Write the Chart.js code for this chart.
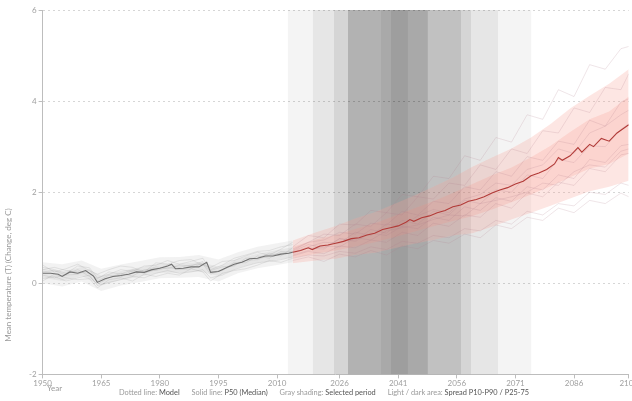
<!DOCTYPE html>
<html>
<head>
<meta charset="utf-8">
<script src="https://cdn.jsdelivr.net/npm/chart.js@4.4.1/dist/chart.umd.min.js"></script>
<style>
  body { margin: 0; overflow: hidden; background: #fff; font-family: Lato, "Open Sans", sans-serif; }
  #wrap { position: relative; width: 638px; height: 401px; }
  #ytitle { position: absolute; left: 8px; top: 275px; transform: translate(-50%, -50%) rotate(-90deg);
            white-space: nowrap; font-size: 8px; color: #9a9a9a; }
  #xtitle { position: absolute; left: 47px; top: 383px; font-size: 8px; color: #9a9a9a; }
  #legend { position: absolute; left: 0; width: 648px; top: 388px; text-align: center;
            font-size: 7.4px; color: #9a9a9a; white-space: nowrap; }
  #legend span { margin: 0 5px; }
  #legend b { font-weight: normal; color: #555; }
</style>
</head>
<body>
<div id="wrap"><canvas id="chart"></canvas></div>
<div id="ytitle">Mean temperature (T) (Change, deg C)</div>
<div id="xtitle">Year</div>
<div id="legend">
  <span>Dotted line: <b>Model</b></span>
  <span>Solid line: <b>P50 (Median)</b></span>
  <span>Gray shading: <b>Selected period</b></span>
  <span>Light / dark area: <b>Spread P10-P90 / P25-75</b></span>
</div>
<script>
// axis ticks
const xTicks = [1950, 1965, 1980, 1995, 2010, 2026, 2041, 2056, 2071, 2086, 2100];

// median (P50), historical and projected
const histYears = [1950, 1952, 1954, 1955, 1957, 1959, 1961, 1963, 1964, 1966, 1968, 1970, 1972, 1974, 1976, 1978, 1980, 1982, 1983, 1984, 1986, 1988, 1990, 1992, 1993, 1995, 1997, 1999, 2001, 2003, 2005, 2007, 2009, 2011, 2013, 2014];
const histMedian = [0.22, 0.22, 0.2, 0.15, 0.25, 0.22, 0.28, 0.16, 0.02, 0.1, 0.15, 0.17, 0.2, 0.25, 0.24, 0.3, 0.33, 0.38, 0.42, 0.32, 0.33, 0.36, 0.36, 0.46, 0.24, 0.26, 0.34, 0.42, 0.46, 0.54, 0.55, 0.6, 0.6, 0.64, 0.66, 0.68];
const projYears = [2014, 2016, 2018, 2019, 2021, 2023, 2025, 2027, 2029, 2031, 2033, 2035, 2037, 2039, 2041, 2043, 2044, 2045, 2047, 2049, 2051, 2053, 2055, 2057, 2059, 2061, 2063, 2065, 2067, 2069, 2071, 2073, 2075, 2077, 2079, 2081, 2082, 2083, 2085, 2087, 2088, 2090, 2091, 2093, 2095, 2097, 2099, 2100];
const projMedian = [0.68, 0.72, 0.78, 0.74, 0.82, 0.84, 0.88, 0.92, 0.98, 1.0, 1.06, 1.1, 1.18, 1.22, 1.26, 1.34, 1.4, 1.36, 1.44, 1.48, 1.55, 1.6, 1.68, 1.72, 1.8, 1.84, 1.9, 1.98, 2.05, 2.1, 2.18, 2.24, 2.36, 2.42, 2.5, 2.62, 2.76, 2.7, 2.8, 2.98, 2.88, 3.05, 3.0, 3.18, 3.12, 3.3, 3.42, 3.48];

// spread percentiles
const histBandYears = [1950, 1955, 1960, 1965, 1970, 1975, 1980, 1985, 1990, 1995, 2000, 2005, 2010, 2014];
const histP90 = [0.46, 0.42, 0.5, 0.32, 0.41, 0.49, 0.57, 0.58, 0.62, 0.52, 0.68, 0.8, 0.88, 0.94];
const histP75 = [0.32, 0.26, 0.36, 0.17, 0.27, 0.35, 0.43, 0.43, 0.47, 0.37, 0.54, 0.65, 0.73, 0.79];
const histP25 = [0.12, 0.05, 0.16, -0.05, 0.07, 0.15, 0.23, 0.23, 0.26, 0.16, 0.34, 0.45, 0.52, 0.57];
const histP10 = [0.0, -0.07, 0.04, -0.17, -0.05, 0.03, 0.11, 0.12, 0.14, 0.04, 0.22, 0.33, 0.4, 0.46];
const projBandYears = [2014, 2020, 2025, 2030, 2035, 2040, 2045, 2050, 2055, 2060, 2065, 2070, 2075, 2080, 2085, 2090, 2095, 2100];
const projP90 = [0.94, 1.12, 1.26, 1.42, 1.56, 1.74, 1.92, 2.12, 2.32, 2.56, 2.76, 2.96, 3.2, 3.5, 3.84, 4.12, 4.38, 4.7];
const projP75 = [0.8, 0.96, 1.06, 1.19, 1.32, 1.48, 1.64, 1.8, 1.98, 2.18, 2.37, 2.54, 2.77, 3.02, 3.32, 3.6, 3.77, 4.1];
const projP25 = [0.56, 0.65, 0.72, 0.81, 0.9, 1.01, 1.13, 1.25, 1.37, 1.48, 1.62, 1.78, 1.95, 2.13, 2.33, 2.52, 2.62, 2.85];
const projP10 = [0.44, 0.5, 0.54, 0.62, 0.67, 0.77, 0.87, 0.95, 1.05, 1.1, 1.24, 1.4, 1.55, 1.7, 1.86, 2.02, 2.12, 2.25];

// individual model runs
const modelHistYears = [1950, 1953, 1956, 1959, 1962, 1964, 1967, 1970, 1973, 1976, 1979, 1982, 1985, 1988, 1991, 1993, 1996, 1999, 2002, 2005, 2008, 2011, 2014];
const modelHist1 = [0.35, 0.3, 0.22, 0.38, 0.34, 0.12, 0.2, 0.3, 0.26, 0.38, 0.4, 0.5, 0.42, 0.48, 0.55, 0.3, 0.4, 0.55, 0.62, 0.7, 0.72, 0.8, 0.85];
const modelHist2 = [0.1, 0.15, 0.05, 0.12, 0.18, -0.05, 0.02, 0.08, 0.15, 0.12, 0.22, 0.28, 0.22, 0.25, 0.3, 0.12, 0.18, 0.3, 0.38, 0.45, 0.48, 0.52, 0.58];
const modelHist3 = [0.25, 0.28, 0.18, 0.2, 0.3, 0.05, 0.18, 0.14, 0.28, 0.22, 0.3, 0.4, 0.35, 0.4, 0.42, 0.2, 0.3, 0.4, 0.5, 0.52, 0.62, 0.66, 0.7];
const modelHist4 = [0.18, 0.12, 0.2, 0.3, 0.15, -0.02, 0.12, 0.22, 0.16, 0.3, 0.28, 0.35, 0.3, 0.32, 0.45, 0.25, 0.28, 0.46, 0.45, 0.6, 0.55, 0.7, 0.68];
const modelHist5 = [0.3, 0.35, 0.28, 0.25, 0.22, 0.1, 0.25, 0.2, 0.3, 0.28, 0.36, 0.32, 0.4, 0.38, 0.48, 0.28, 0.36, 0.38, 0.55, 0.55, 0.66, 0.6, 0.78];
const modelHist6 = [0.4, 0.25, 0.32, 0.42, 0.28, 0.2, 0.3, 0.38, 0.35, 0.25, 0.45, 0.42, 0.5, 0.52, 0.4, 0.35, 0.48, 0.5, 0.6, 0.68, 0.62, 0.75, 0.9];
const modelHist7 = [0.05, 0.2, 0.12, 0.08, 0.1, -0.1, 0.08, 0.12, 0.05, 0.2, 0.15, 0.22, 0.18, 0.32, 0.25, 0.05, 0.22, 0.28, 0.32, 0.4, 0.5, 0.46, 0.55];
const modelProjYears = [2014, 2018, 2022, 2026, 2030, 2034, 2038, 2042, 2046, 2050, 2054, 2058, 2062, 2066, 2070, 2074, 2078, 2082, 2086, 2090, 2094, 2098, 2100];
const modelProj1 = [0.8, 1.05, 1.0, 1.3, 1.28, 1.6, 1.55, 1.95, 1.9, 2.35, 2.3, 2.8, 2.7, 3.2, 3.1, 3.7, 3.6, 4.25, 4.1, 4.8, 4.7, 5.15, 5.2];
const modelProj2 = [0.75, 0.9, 1.08, 1.05, 1.3, 1.25, 1.55, 1.5, 1.9, 1.85, 2.2, 2.15, 2.6, 2.5, 2.95, 2.85, 3.35, 3.3, 3.85, 3.75, 4.3, 4.25, 4.6];
const modelProj3 = [0.7, 0.85, 0.78, 0.98, 0.95, 1.18, 1.1, 1.38, 1.3, 1.58, 1.5, 1.82, 1.75, 2.05, 2.0, 2.38, 2.3, 2.72, 2.65, 3.02, 3.0, 3.38, 3.5];
const modelProj4 = [0.6, 0.7, 0.65, 0.82, 0.78, 0.95, 0.9, 1.12, 1.05, 1.32, 1.25, 1.5, 1.45, 1.75, 1.65, 1.98, 1.9, 2.22, 2.15, 2.52, 2.45, 2.82, 2.85];
const modelProj5 = [0.5, 0.58, 0.48, 0.64, 0.58, 0.72, 0.62, 0.82, 0.76, 0.94, 0.88, 1.08, 1.0, 1.28, 1.2, 1.45, 1.38, 1.65, 1.55, 1.82, 1.75, 1.98, 1.9];
const modelProj6 = [0.72, 0.9, 0.95, 1.12, 1.08, 1.32, 1.28, 1.58, 1.5, 1.8, 1.75, 2.12, 2.05, 2.45, 2.35, 2.78, 2.7, 3.12, 3.05, 3.58, 3.45, 3.98, 4.05];
const modelProj7 = [0.65, 0.78, 0.75, 0.98, 0.92, 1.1, 1.05, 1.25, 1.2, 1.45, 1.38, 1.68, 1.6, 1.88, 1.8, 2.12, 2.05, 2.38, 2.3, 2.72, 2.65, 3.02, 3.05];
const modelProj8 = [0.68, 0.8, 0.9, 0.88, 1.12, 1.05, 1.3, 1.25, 1.48, 1.62, 1.55, 1.85, 1.95, 2.2, 2.15, 2.5, 2.6, 2.95, 2.85, 3.3, 3.45, 3.7, 3.8];
const modelProj9 = [0.62, 0.72, 0.82, 0.8, 1.0, 0.95, 1.15, 1.22, 1.28, 1.4, 1.5, 1.48, 1.75, 1.82, 1.9, 2.0, 2.2, 2.15, 2.45, 2.6, 2.55, 2.9, 2.95];
const modelProj10 = [0.55, 0.62, 0.6, 0.7, 0.66, 0.8, 0.74, 0.92, 0.88, 1.05, 1.0, 1.2, 1.15, 1.38, 1.3, 1.58, 1.5, 1.75, 1.7, 2.0, 1.95, 2.2, 2.15];

// selected period shading (overlapping year ranges)
const shadeFrom = [2012.7, 2019.1, 2024.5, 2028.1, 2028.1, 2036.6, 2039.1];
const shadeTo = [2075.1, 2066.6, 2059.7, 2057.1, 2048.6, 2048.6, 2043.5];
const shadeAlpha = [0.043, 0.058, 0.079, 0.094, 0.084, 0.057, 0.06];

function pts(xs, ys) {
    return xs.map(function(x, i) { return { x: x, y: ys[i] }; });
}

function line(xs, ys, color, width, extra) {
    return Object.assign({
        data: pts(xs, ys),
        borderColor: color,
        borderWidth: width,
        pointRadius: 0,
        tension: 0,
        fill: false
    }, extra || {});
}

const datasets = [];
// medians on top
datasets.push(line(projYears, projMedian, '#b23b38', 1.1));
datasets.push(line(histYears, histMedian, '#707070', 1.1));
// model runs
[modelProj1, modelProj2, modelProj3, modelProj4, modelProj5, modelProj6, modelProj7, modelProj8, modelProj9, modelProj10].forEach(function(m) {
    datasets.push(line(modelProjYears, m, 'rgba(175,120,140,0.33)', 0.6));
});
[modelHist1, modelHist2, modelHist3, modelHist4, modelHist5, modelHist6, modelHist7].forEach(function(m) {
    datasets.push(line(modelHistYears, m, 'rgba(150,150,150,0.35)', 0.6));
});
// spread areas: dark (P25-75) then light (P10-90)
datasets.push(line(projBandYears, projP75, 'rgba(0,0,0,0)', 0, { fill: '+1', backgroundColor: 'rgba(245,140,125,0.2)' }));
datasets.push(line(projBandYears, projP25, 'rgba(0,0,0,0)', 0));
datasets.push(line(projBandYears, projP90, 'rgba(0,0,0,0)', 0, { fill: '+1', backgroundColor: 'rgba(248,160,145,0.26)' }));
datasets.push(line(projBandYears, projP10, 'rgba(0,0,0,0)', 0));
datasets.push(line(histBandYears, histP75, 'rgba(0,0,0,0)', 0, { fill: '+1', backgroundColor: 'rgba(170,170,170,0.16)' }));
datasets.push(line(histBandYears, histP25, 'rgba(0,0,0,0)', 0));
datasets.push(line(histBandYears, histP90, 'rgba(0,0,0,0)', 0, { fill: '+1', backgroundColor: 'rgba(190,190,190,0.2)' }));
datasets.push(line(histBandYears, histP10, 'rgba(0,0,0,0)', 0));
// gray shading at the bottom
shadeFrom.forEach(function(from, i) {
    datasets.push(line([from, shadeTo[i]], [6, 6], 'rgba(0,0,0,0)', 0,
        { fill: 'start', backgroundColor: 'rgba(0,0,0,' + shadeAlpha[i] + ')' }));
});

const tickFont = { family: 'Lato, "Open Sans", sans-serif', size: 8 };

new Chart(document.getElementById('chart'), {
    type: 'line',
    data: { datasets: datasets },
    options: {
        responsive: true,
        maintainAspectRatio: false,
        animation: false,
        layout: { padding: { left: 27, top: 10, bottom: 13, right: 0 } },
        plugins: { legend: { display: false }, tooltip: { enabled: false } },
        scales: {
            x: {
                type: 'linear',
                min: 1950,
                max: 2100,
                afterBuildTicks: function(scale) {
                    scale.ticks = xTicks.map(function(v) { return { value: v }; });
                },
                ticks: {
                    autoSkip: false,
                    maxRotation: 0,
                    color: '#a0a0a0',
                    font: tickFont,
                    padding: 0,
                    callback: function(v) { return String(v); }
                },
                grid: { drawOnChartArea: false, tickLength: 4, tickColor: '#bdbdbd' },
                border: { color: '#bdbdbd' }
            },
            y: {
                min: -2,
                max: 6,
                ticks: { stepSize: 2, color: '#a0a0a0', font: tickFont, padding: 2 },
                grid: {
                    color: function(ctx) { return ctx.tick && ctx.tick.value === -2 ? 'rgba(0,0,0,0)' : '#d6d6d6'; },
                    tickColor: '#bdbdbd',
                    tickLength: 4
                },
                border: { color: '#bdbdbd', dash: [2, 3] }
            }
        }
    }
});
</script>
</body>
</html>
